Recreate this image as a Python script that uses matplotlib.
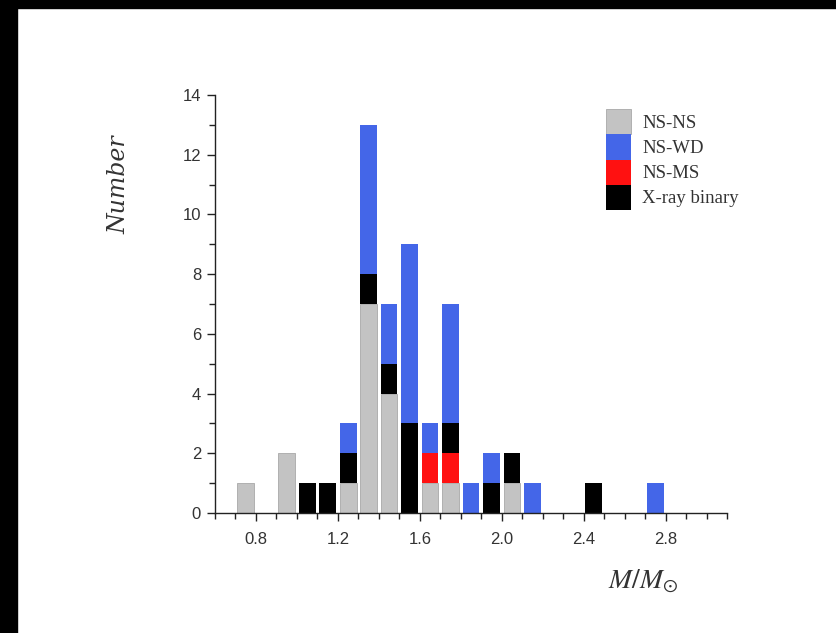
import numpy as np
import matplotlib
matplotlib.use("Agg")
import matplotlib.pyplot as plt
from matplotlib.patches import Rectangle
from matplotlib.ticker import MultipleLocator

plt.rcParams["mathtext.fontset"] = "stix"

# Bin left edges (M/Msun), width 0.1
bin_left = [0.7, 0.8, 0.9, 1.0, 1.1, 1.2, 1.3, 1.4, 1.5, 1.6, 1.7, 1.8, 1.9, 2.0, 2.1, 2.2, 2.3, 2.4, 2.5, 2.6, 2.7]
ns_ns    = [1, 0, 2, 0, 0, 1, 7, 4, 0, 1, 1, 0, 0, 1, 0, 0, 0, 0, 0, 0, 0]
ns_ms    = [0, 0, 0, 0, 0, 0, 0, 0, 0, 1, 1, 0, 0, 0, 0, 0, 0, 0, 0, 0, 0]
xray     = [0, 0, 0, 1, 1, 1, 1, 1, 3, 0, 1, 0, 1, 1, 0, 0, 0, 1, 0, 0, 0]
ns_wd    = [0, 0, 0, 0, 0, 1, 5, 2, 6, 1, 4, 1, 1, 0, 1, 0, 0, 0, 0, 0, 1]

labels = ["NS-NS", "NS-WD", "NS-MS", "X-ray binary"]
colors = {"NS-NS": "#c3c3c3", "NS-WD": "#4466e8", "NS-MS": "#ff1111", "X-ray binary": "#000000"}

fig = plt.figure(figsize=(8.37, 6.33), dpi=100)
fig.patch.set_facecolor("white")
# dark scan borders
fig.patches.append(Rectangle((0, 0), 17/837, 1, transform=fig.transFigure, color="black", zorder=10))
fig.patches.append(Rectangle((0, 1 - 8/633), 1, 8/633, transform=fig.transFigure, color="black", zorder=10))

ax = fig.add_axes([215/837, 1 - 513/633, 512/837, 418/633])

centers = np.array(bin_left) + 0.05
w = 0.082
b0 = np.zeros(len(bin_left))
h_nsns = ax.bar(centers, ns_ns, width=w, bottom=b0, color=colors["NS-NS"], edgecolor="#a8a8a8", linewidth=0.6)
b1 = b0 + np.array(ns_ns)
h_nsms = ax.bar(centers, ns_ms, width=w, bottom=b1, color=colors["NS-MS"], linewidth=0)
b2 = b1 + np.array(ns_ms)
h_xray = ax.bar(centers, xray, width=w, bottom=b2, color=colors["X-ray binary"], linewidth=0)
b3 = b2 + np.array(xray)
h_nswd = ax.bar(centers, ns_wd, width=w, bottom=b3, color=colors["NS-WD"], linewidth=0)

ax.set_xlim(0.6, 3.1)
ax.set_ylim(0, 14)
ax.spines["top"].set_visible(False)
ax.spines["right"].set_visible(False)
for s in ("left", "bottom"):
    ax.spines[s].set_linewidth(1.0)
    ax.spines[s].set_color("#222222")

ax.xaxis.set_minor_locator(MultipleLocator(0.1))
ax.set_xticks([0.8, 1.2, 1.6, 2.0, 2.4, 2.8])
ax.set_xticklabels(["0.8", "1.2", "1.6", "2.0", "2.4", "2.8"])
ax.yaxis.set_major_locator(MultipleLocator(2))
ax.yaxis.set_minor_locator(MultipleLocator(1))
ax.tick_params(axis="both", which="major", direction="out", length=6, width=1.0, color="#222222",
               labelsize=12, labelcolor="#333333")
ax.tick_params(axis="both", which="minor", direction="out", length=4, width=1.0, color="#222222")
ax.tick_params(axis="x", which="major", pad=8)
ax.tick_params(axis="y", which="major", pad=4)
for t in ax.get_xticklabels() + ax.get_yticklabels():
    t.set_fontfamily("Liberation Sans")

ax.set_ylabel("Number", fontsize=17, fontstyle="italic", family="DejaVu Serif", color="#333333")
ax.yaxis.set_label_coords(-0.165, 0.785)
ax.set_xlabel(r"$M/M_{\odot}$", fontsize=20, color="#333333")
ax.xaxis.set_label_coords(0.836, -0.128)

leg = ax.legend([h_nsns, h_nswd, h_nsms, h_xray], labels,
                loc="upper left", bbox_to_anchor=(597/837, 1 - 100/633), bbox_transform=fig.transFigure,
                frameon=False, borderpad=0, labelspacing=0, handleheight=1.68, handlelength=1.3,
                handletextpad=0.6, prop={"family": "Liberation Serif", "size": 13.5})
for t in leg.get_texts():
    t.set_color("#333333")

fig.savefig("out.png", dpi=100, facecolor="white")
